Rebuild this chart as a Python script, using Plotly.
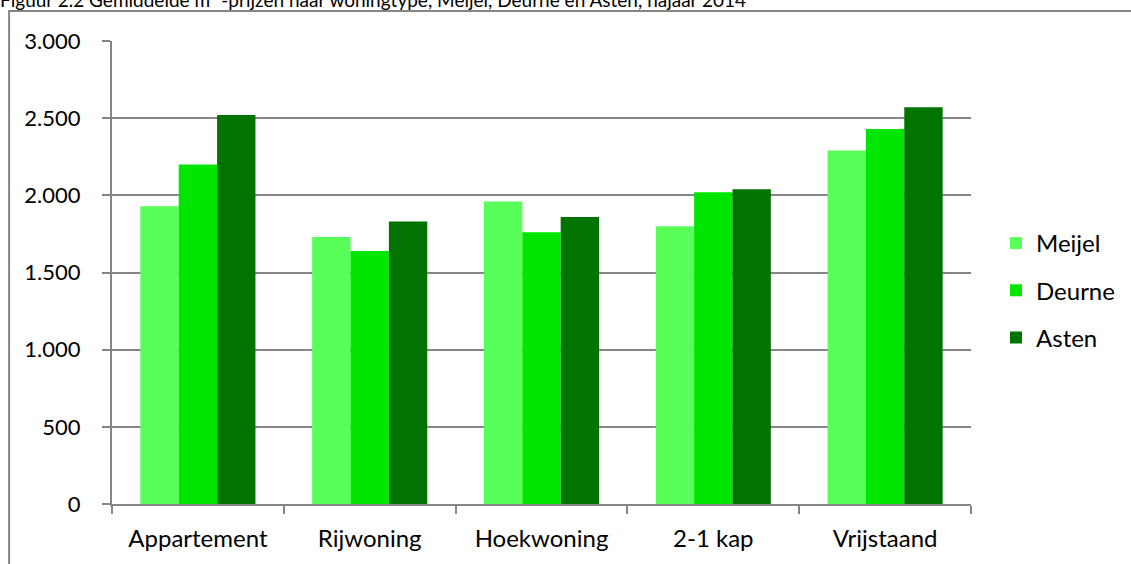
import plotly.graph_objects as go

categories = ["Appartement", "Rijwoning", "Hoekwoning", "2-1 kap", "Vrijstaand"]
series_names = ["Meijel", "Deurne", "Asten"]
meijel = [1930, 1730, 1960, 1800, 2290]
deurne = [2200, 1640, 1760, 2020, 2430]
asten = [2520, 1830, 1860, 2040, 2570]
y_ticks = [0, 500, 1000, 1500, 2000, 2500, 3000]
title_text = "Figuur 2.2 Gemiddelde m² -prijzen naar woningtype, Meijel, Deurne en Asten, najaar 2014"

colors = ["#59FF59", "#00E600", "#007300"]
FONT = "Lato, 'Open Sans', sans-serif"
W, H = 1131, 564
L, R, T, B = 112, 159, 41, 60
pw, ph = W - L - R, H - T - B

fig = go.Figure()
for i, (name, vals) in enumerate(zip(series_names, [meijel, deurne, asten])):
    fig.add_trace(go.Bar(
        x=categories, y=vals, name=name,
        marker=dict(color=colors[i], line=dict(width=0)),
        legendgroup=name,
    ))

def px_x(x):
    return (x - L) / pw

def px_y(y):
    return (H - B - y) / ph

fig.update_layout(
    width=W, height=H,
    margin=dict(l=L, r=R, t=T, b=B, pad=0),
    paper_bgcolor="white", plot_bgcolor="white",
    barmode="group", bargap=0.33, bargroupgap=0,
    separators=",.",
    font=dict(family=FONT, size=24, color="#000000"),
    showlegend=True,
    legend=dict(
        x=px_x(996), y=px_y(221), xanchor="left", yanchor="top",
        font=dict(family=FONT, size=24, color="#000000"),
        traceorder="grouped", tracegroupgap=13,
        bgcolor="rgba(0,0,0,0)", itemwidth=30,
    ),
    xaxis=dict(
        showgrid=False, showline=True, linecolor="#868686", linewidth=2,
        ticks="outside", tickson="boundaries", ticklen=8, tickcolor="#868686", tickwidth=2,
        tickfont=dict(family=FONT, size=24, color="#000000"),
        ticklabelstandoff=12,
        fixedrange=True,
    ),
    yaxis=dict(
        range=[0, 3000], tickvals=y_ticks, tickformat=",d",
        showgrid=True, gridcolor="#868686", gridwidth=2,
        showline=True, linecolor="#868686", linewidth=2,
        ticks="outside", ticklen=8, tickcolor="#868686", tickwidth=2,
        tickfont=dict(family=FONT, size=22, color="#000000"),
        ticklabelstandoff=17,
        zeroline=False, fixedrange=True,
    ),
)

# outer frame of the chart object
fig.add_shape(type="rect", xref="paper", yref="paper",
              x0=px_x(9), x1=px_x(1140), y0=px_y(575), y1=px_y(11),
              line=dict(color="#868686", width=2), fillcolor="rgba(0,0,0,0)", layer="below")

# title, partly cut off at the top of the picture (as in the reference)
fig.add_annotation(text=title_text, xref="paper", yref="paper",
                   x=px_x(-2), y=px_y(13), xanchor="left", yanchor="bottom",
                   showarrow=False, font=dict(family=FONT, size=19, color="#000000"))

fig.write_html("out.html")
